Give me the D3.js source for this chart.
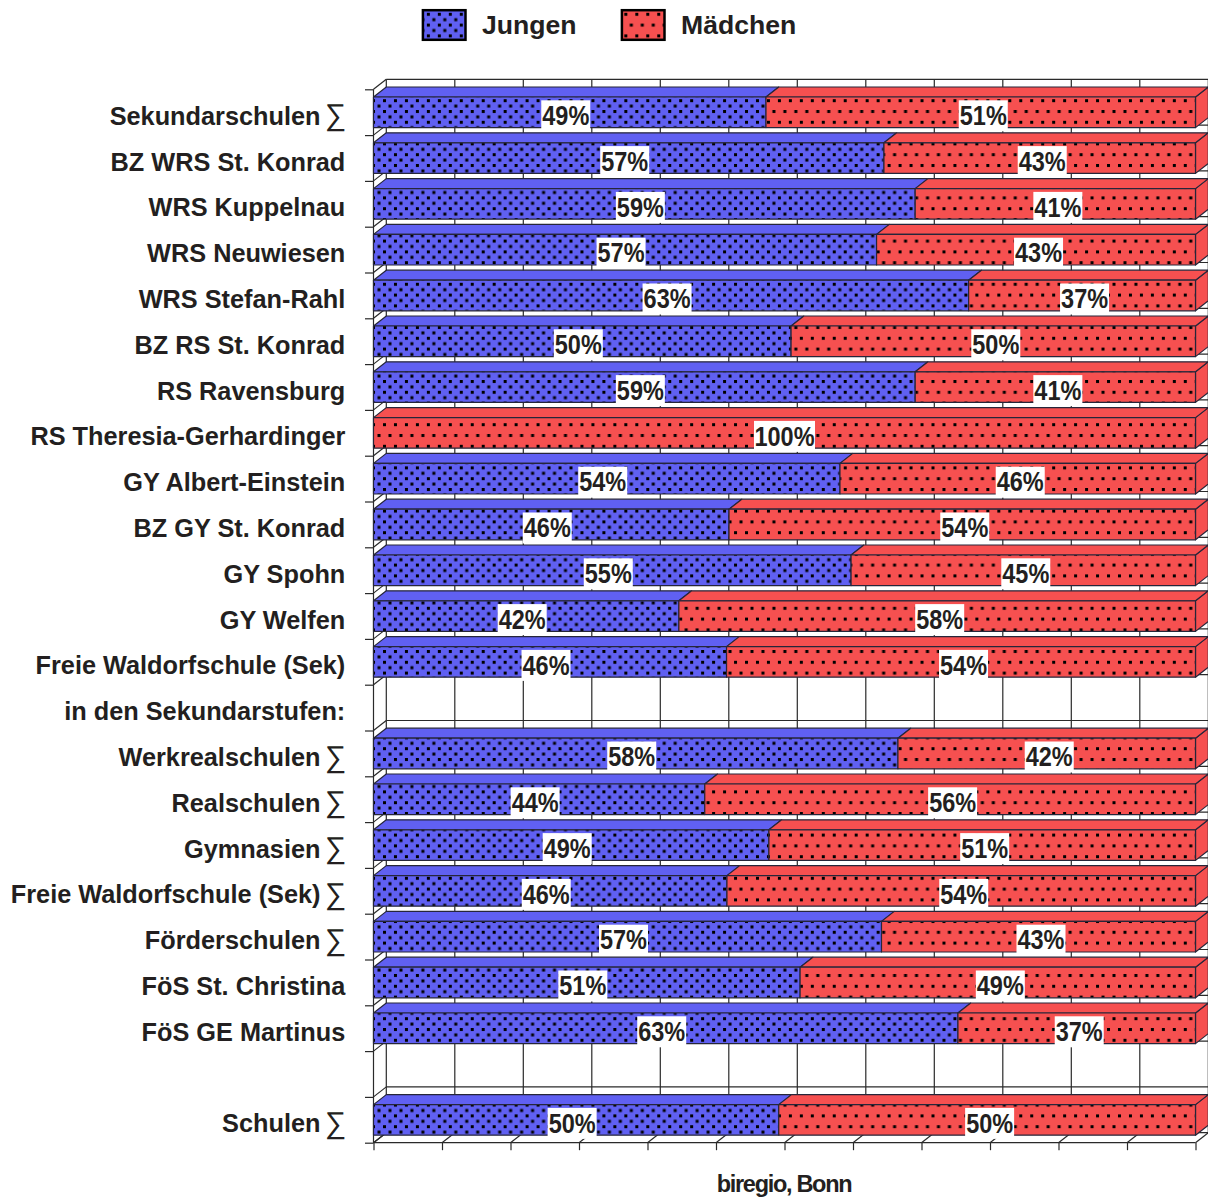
<!DOCTYPE html>
<html><head><meta charset="utf-8">
<script src="https://cdnjs.cloudflare.com/ajax/libs/d3/7.8.5/d3.min.js"></script>
<style>
html,body{margin:0;padding:0;background:#fff}
svg{display:block}
text{font-family:"Liberation Sans",Arial,sans-serif;font-weight:bold;fill:#231f20}
</style></head><body>
<script>
const categories=["Sekundarschulen ∑","BZ WRS St. Konrad","WRS Kuppelnau","WRS Neuwiesen","WRS Stefan-Rahl","BZ RS St. Konrad","RS Ravensburg","RS Theresia-Gerhardinger","GY Albert-Einstein","BZ GY St. Konrad","GY Spohn","GY Welfen","Freie Waldorfschule (Sek)","in den Sekundarstufen:","Werkrealschulen ∑","Realschulen ∑","Gymnasien ∑","Freie Waldorfschule (Sek) ∑","Förderschulen ∑","FöS St. Christina","FöS GE Martinus"," ","Schulen ∑"];
// boundary between the two segments (share of the axis length)
const splitJungen=[47.75,62.1,65.9,61.2,72.4,50.8,65.9,0,56.75,43.25,58.1,37.15,42.95,null,63.8,40.3,48.1,43.0,61.8,51.9,71.1,null,49.3];
const labelJungen=[49,57,59,57,63,50,59,null,54,46,55,42,46,null,58,44,49,46,57,51,63,null,50];
const labelMaedchen=[51,43,41,43,37,50,41,100,46,54,45,58,54,null,42,56,51,54,43,49,37,null,50];
const legendNames=["Jungen","Mädchen"];
const seriesColors=["#6060f2","#f65050"];
const tickCount=12;

const W=1208,H=1198;
const svg=d3.select("body").append("svg").attr("width",W).attr("height",H);
const x=d3.scaleLinear().domain([0,100]).range([373.5,1195.5]);
const y=d3.scaleBand().domain(d3.range(categories.length)).range([89.3,1142.7]);
const DX=12.8,DY=10,FT=7.7,FH=30.6;
const xTicks=d3.range(tickCount+1).map(i=>i*100/tickCount);
const line="#2a2a2a";

const defs=svg.append("defs");
function pattern(id,color,w,h,dots){
  const p=defs.append("pattern").attr("id",id).attr("patternUnits","userSpaceOnUse")
    .attr("x",383).attr("y",99.2).attr("width",w).attr("height",h);
  p.append("rect").attr("width",w).attr("height",h).attr("fill",color);
  dots.forEach(d=>p.append("rect").attr("x",d[0]).attr("y",d[1]).attr("width",3).attr("height",3).attr("fill","#000"));
}
pattern("pj",seriesColors[0],10.97,10.8,[[0,0],[5.48,5.4]]);
pattern("pm",seriesColors[1],10.97,21.6,[[0,0],[5.48,10.8]]);

// back wall
const wall=svg.append("g").attr("fill","none").attr("stroke",line).attr("stroke-width",1.2);
xTicks.forEach(t=>wall.append("line").attr("x1",x(t)+DX).attr("x2",x(t)+DX).attr("y1",y.range()[0]-DY).attr("y2",y.range()[1]-DY));
const yEdges=d3.range(categories.length+1);
const yEdge=i=>i<categories.length?y(i):y.range()[1];
yEdges.forEach(i=>{
  const v=yEdge(i);
  wall.append("line").attr("x1",x(0)+DX).attr("x2",x(100)+DX).attr("y1",v-DY).attr("y2",v-DY);
  wall.append("line").attr("x1",x(0)).attr("x2",x(0)+DX).attr("y1",v).attr("y2",v-DY);
});
xTicks.forEach(t=>wall.append("line").attr("x1",x(t)).attr("x2",x(t)+DX).attr("y1",y.range()[1]).attr("y2",y.range()[1]-DY));
wall.append("line").attr("x1",x(0)).attr("x2",x(0)).attr("y1",y.range()[0]).attr("y2",y.range()[1]);
wall.append("line").attr("x1",x(0)).attr("x2",x(100)).attr("y1",y.range()[1]).attr("y2",y.range()[1]);

// axes (ticks only)
const axisB=d3.axisBottom(x).tickValues(xTicks).tickSize(7.5).tickFormat("");
const gB=svg.append("g").attr("transform",`translate(0,${y.range()[1]})`).call(axisB);
gB.select(".domain").remove();
gB.selectAll("line").attr("stroke",line).attr("stroke-width",1.2);
const yLeft=d3.scaleLinear().domain([0,categories.length]).range(y.range());
const axisL=d3.axisLeft(yLeft).tickValues(yEdges).tickSize(8.5).tickFormat("");
const gL=svg.append("g").attr("transform",`translate(${x(0)},0)`).call(axisL);
gL.select(".domain").remove();
gL.selectAll("line").attr("stroke",line).attr("stroke-width",1.2);

// bars
const bars=svg.append("g").attr("stroke","#26263a").attr("stroke-width",1.2).attr("stroke-linejoin","round");
function seg(i,a,b,k,right){
  const t=y(i)+FT,bm=t+FH,xa=x(a),xb=x(b);
  const c=seriesColors[k];
  if(right) bars.append("polygon").attr("fill",c)
    .attr("points",[[xb,t],[xb+DX,t-DY],[xb+DX,bm-DY],[xb,bm]].join(" "));
  bars.append("polygon").attr("fill",c)
    .attr("points",[[xa,t],[xa+DX,t-DY],[xb+DX,t-DY],[xb,t]].join(" "));
  bars.append("rect").attr("x",xa).attr("y",t).attr("width",xb-xa).attr("height",FH)
    .attr("fill",k?"url(#pm)":"url(#pj)");
}
categories.forEach((c,i)=>{
  const s=splitJungen[i];
  if(s===null) return;
  if(s>0) seg(i,0,s,0,false);
  seg(i,s,100,1,true);
});

// percent labels
const valueLabels=svg.append("g");
function valLabel(cx,cy,txt){
  const w=txt.length>3?61:49;
  valueLabels.append("rect").attr("x",cx-w/2).attr("y",cy-15.5).attr("width",w).attr("height",31).attr("fill","#fff");
  valueLabels.append("text").attr("transform",`translate(${cx},${cy+9.2}) scale(0.87,1)`)
    .attr("text-anchor","middle").attr("font-size",27).text(txt);
}
categories.forEach((c,i)=>{
  const s=splitJungen[i];
  if(s===null) return;
  const cy=y(i)+26.5;
  if(labelJungen[i]!==null) valLabel((x(0)+x(s))/2-4,cy,labelJungen[i]+"%");
  valLabel((x(s)+x(100))/2+(s>0?2.5:0),cy,labelMaedchen[i]+"%");
});

// category labels
const hasSum=d=>d.endsWith(" ∑");
const catG=svg.append("g");
catG.selectAll("text.cat").data(categories).join("text").attr("class","cat")
  .attr("x",d=>hasSum(d)?320.5:345.3).attr("y",(d,i)=>y(i)+35.4)
  .attr("text-anchor","end").attr("font-size",25.3).text(d=>hasSum(d)?d.slice(0,-2):d);
catG.selectAll("text.sum").data(categories.map((d,i)=>[d,i]).filter(a=>hasSum(a[0]))).join("text").attr("class","sum")
  .attr("x",346.5).attr("y",a=>y(a[1])+36).attr("text-anchor","end")
  .attr("font-size",30).style("font-weight","normal").text("∑");

// legend
const lg=[[421.7,482],[620.7,681]];
legendNames.forEach((n,i)=>{
  svg.append("rect").attr("x",lg[i][0]+1.2).attr("y",10.2).attr("width",42.6).attr("height",29.6)
    .attr("fill",i?"url(#pm)":"url(#pj)").attr("stroke","#000").attr("stroke-width",2.5);
  svg.append("text").attr("x",lg[i][1]).attr("y",34).attr("font-size",26.6).text(n);
});

// footer
svg.append("text").attr("x",784).attr("y",1192).attr("text-anchor","middle")
  .attr("font-size",23.5).attr("letter-spacing",-1.3).text("biregio, Bonn");
</script></body></html>
